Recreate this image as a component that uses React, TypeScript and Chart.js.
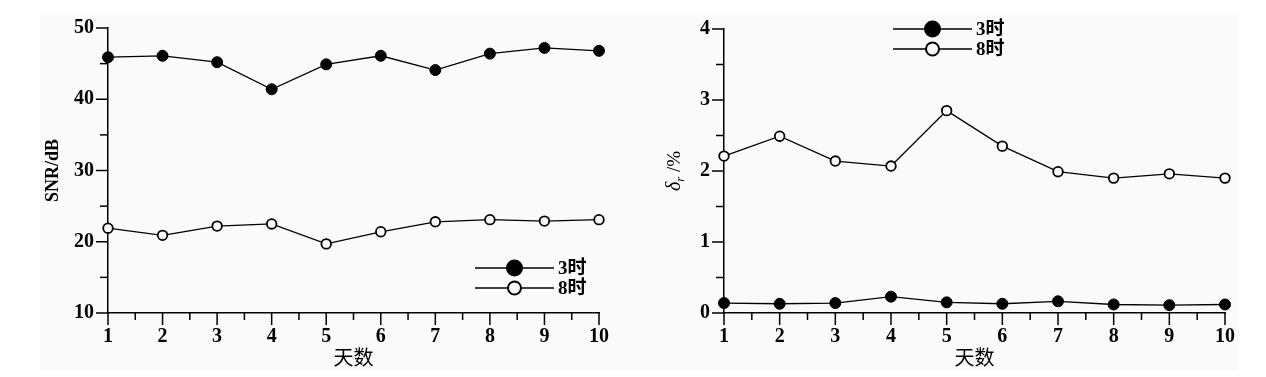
import React, { useEffect, useRef } from 'react';
import { Chart, registerables } from 'chart.js';
Chart.register(...registerables);

const days = [1, 2, 3, 4, 5, 6, 7, 8, 9, 10];
const seriesNames = ['3时', '8时'];
const snr3 = [45.9, 46.1, 45.2, 41.4, 44.9, 46.1, 44.1, 46.4, 47.2, 46.8];
const snr8 = [21.9, 20.9, 22.2, 22.5, 19.7, 21.4, 22.8, 23.1, 22.9, 23.1];
const err3 = [0.14, 0.13, 0.14, 0.23, 0.15, 0.13, 0.165, 0.12, 0.11, 0.12];
const err8 = [2.21, 2.49, 2.14, 2.07, 2.85, 2.35, 1.99, 1.9, 1.96, 1.9];
const snrRange = [10, 50, 10];
const errRange = [0, 4, 1];
const xTitle = '天数';
const snrTitle = 'SNR/dB';

const SERIF = '"Liberation Serif", "DejaVu Serif", "Noto Sans CJK SC", serif';
const CJK = '"Noto Sans CJK SC", sans-serif';
const PANEL = '#fafafa';

const axisPlugin = {
  id: 'axisDecor',
  afterDraw(chart: any, _args: any, opts: any) {
    const ctx = chart.ctx;
    const xs = chart.scales.x;
    const ys = chart.scales.y;
    const area = chart.chartArea;
    ctx.save();
    ctx.strokeStyle = '#000';
    ctx.lineWidth = 1.5;
    const xt = xs.ticks.map((t: any) => t.value);
    xt.forEach((v: number, i: number) => {
      const p = xs.getPixelForValue(v);
      ctx.beginPath();
      ctx.moveTo(p, area.bottom);
      ctx.lineTo(p, area.bottom + 12);
      ctx.stroke();
      if (i < xt.length - 1) {
        const m = xs.getPixelForValue((v + xt[i + 1]) / 2);
        ctx.beginPath();
        ctx.moveTo(m, area.bottom);
        ctx.lineTo(m, area.bottom + 7);
        ctx.stroke();
      }
    });
    const yt = ys.ticks.map((t: any) => t.value);
    yt.forEach((v: number, i: number) => {
      const p = ys.getPixelForValue(v);
      ctx.beginPath();
      ctx.moveTo(area.left, p);
      ctx.lineTo(area.left - 12, p);
      ctx.stroke();
      if (i < yt.length - 1) {
        const m = ys.getPixelForValue((v + yt[i + 1]) / 2);
        ctx.beginPath();
        ctx.moveTo(area.left, m);
        ctx.lineTo(area.left - 8, m);
        ctx.stroke();
      }
    });
    ctx.fillStyle = '#000';
    ctx.font = '20px ' + CJK;
    ctx.textAlign = 'center';
    ctx.textBaseline = 'middle';
    ctx.fillText(xTitle, (area.left + area.right) / 2, opts.xTitleY);
    ctx.save();
    ctx.translate(opts.yTitleX, (area.top + area.bottom) / 2);
    ctx.rotate(-Math.PI / 2);
    ctx.textBaseline = 'middle';
    if (opts.yTitleKind === 'snr') {
      ctx.font = 'bold 18px ' + SERIF;
      ctx.textAlign = 'center';
      ctx.fillText(snrTitle, 0, 0);
    } else {
      const f1 = 'italic 20px ' + SERIF;
      const f2 = 'italic 13px ' + SERIF;
      const f3 = '19px ' + SERIF;
      ctx.font = f1; const w1 = ctx.measureText('δ').width;
      ctx.font = f2; const w2 = ctx.measureText('r').width;
      ctx.font = f3; const w3 = ctx.measureText(' /%').width;
      let x = -(w1 + w2 + w3) / 2;
      ctx.textAlign = 'left';
      ctx.font = f1; ctx.fillText('δ', x, 0); x += w1;
      ctx.font = f2; ctx.fillText('r', x, 6); x += w2;
      ctx.font = f3; ctx.fillText(' /%', x, 0);
    }
    ctx.restore();
    const lg = opts.legend;
    chart.data.datasets.forEach((ds: any, i: number) => {
      const y = lg.y + i * lg.gap;
      ctx.strokeStyle = '#000';
      ctx.lineWidth = 1.5;
      ctx.beginPath();
      ctx.moveTo(lg.x1, y);
      ctx.lineTo(lg.x2, y);
      ctx.stroke();
      ctx.beginPath();
      ctx.arc((lg.x1 + lg.x2) / 2, y, i === 0 ? 7.5 : 6.5, 0, Math.PI * 2);
      ctx.fillStyle = ds.pointBackgroundColor;
      ctx.fill();
      ctx.lineWidth = 2;
      ctx.stroke();
      ctx.fillStyle = '#000';
      ctx.font = 'bold 19px ' + SERIF;
      ctx.textAlign = 'left';
      ctx.textBaseline = 'middle';
      ctx.fillText(ds.label, lg.x2 + 4, y + 1);
    });
    ctx.restore();
  },
};

function makeConfig(v3: number[], v8: number[], range: number[], yWidth: number, pad: any, decor: any): any {
  const tickFont = { family: SERIF, size: 20, weight: 'bold' as const };
  return {
    type: 'line',
    data: {
      datasets: [
        {
          label: seriesNames[0],
          data: days.map((d, i) => ({ x: d, y: v3[i] })),
          borderColor: '#000',
          borderWidth: 1.3,
          pointRadius: 5.5,
          pointBackgroundColor: '#000',
          pointBorderColor: '#000',
          pointBorderWidth: 1,
          clip: false,
        },
        {
          label: seriesNames[1],
          data: days.map((d, i) => ({ x: d, y: v8[i] })),
          borderColor: '#000',
          borderWidth: 1.3,
          pointRadius: 4.8,
          pointBackgroundColor: PANEL,
          pointBorderColor: '#000',
          pointBorderWidth: 1.8,
          clip: false,
        },
      ],
    },
    options: {
      responsive: false,
      animation: false,
      layout: { padding: pad },
      plugins: { legend: { display: false }, tooltip: { enabled: false }, axisDecor: decor },
      scales: {
        x: {
          type: 'linear',
          min: days[0],
          max: days[days.length - 1],
          afterFit: (s: any) => { s.height = 64; },
          ticks: { stepSize: 1, padding: 12, color: '#000', font: tickFont, maxRotation: 0, autoSkip: false },
          grid: { display: false, drawTicks: false },
          border: { display: true, color: '#000', width: 1.5 },
        },
        y: {
          type: 'linear',
          min: range[0],
          max: range[1],
          afterFit: (s: any) => { s.width = yWidth; },
          ticks: { stepSize: range[2], padding: 14, color: '#000', font: tickFont },
          grid: { display: false, drawTicks: false },
          border: { display: true, color: '#000', width: 1.5 },
        },
      },
    },
    plugins: [axisPlugin],
  };
}

export default function App() {
  const leftRef = useRef<HTMLCanvasElement>(null);
  const rightRef = useRef<HTMLCanvasElement>(null);
  useEffect(() => {
    let c1: any = null;
    let c2: any = null;
    let cancelled = false;
    const build = () => {
      if (cancelled) return;
      c1 = new Chart(
        leftRef.current as HTMLCanvasElement,
        makeConfig(snr3, snr8, snrRange, 108, { left: 0, right: 34, top: 28, bottom: 0 }, {
          xTitleY: 357,
          yTitleX: 53,
          yTitleKind: 'snr',
          legend: { x1: 475, x2: 554, y: 268, gap: 20 },
        })
      );
      c2 = new Chart(
        rightRef.current as HTMLCanvasElement,
        makeConfig(err3, err8, errRange, 91, { left: 0, right: 41, top: 29, bottom: 0 }, {
          xTitleY: 357,
          yTitleX: 42,
          yTitleKind: 'err',
          legend: { x1: 260, x2: 339, y: 29, gap: 20 },
        })
      );
    };
    const fonts: any = (document as any).fonts;
    if (fonts && fonts.load) {
      Promise.all([
        fonts.load('bold 20px "Liberation Serif"'),
        fonts.load('italic 20px "Liberation Serif"'),
        fonts.load('20px "Liberation Serif"'),
        fonts.load('20px "Noto Sans CJK SC"', '天数时'),
      ]).then(build, build);
    } else {
      build();
    }
    return () => {
      cancelled = true;
      if (c1) c1.destroy();
      if (c2) c2.destroy();
    };
  }, []);
  return (
    <div style={{ position: 'fixed', left: 0, top: 0, width: 1266, height: 377, background: '#fff', overflow: 'hidden' }}>
      <div style={{ position: 'absolute', left: 40, top: 13, width: 1198, height: 357, background: PANEL }} />
      <canvas ref={leftRef} width={633} height={377} style={{ position: 'absolute', left: 0, top: 0, width: 633, height: 377 }} />
      <canvas ref={rightRef} width={633} height={377} style={{ position: 'absolute', left: 633, top: 0, width: 633, height: 377 }} />
    </div>
  );
}
